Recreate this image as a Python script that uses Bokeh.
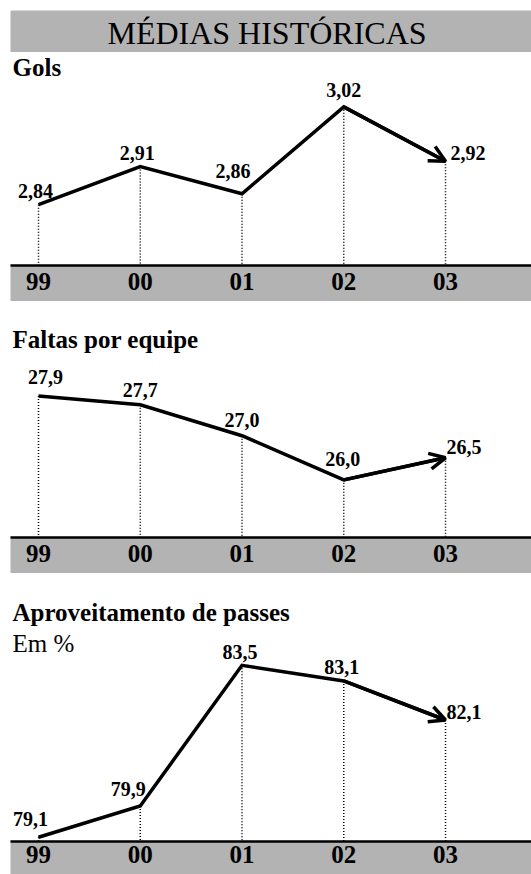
from bokeh.plotting import figure
from bokeh.layouts import column
from bokeh.models import Range1d, Label, Arrow, OpenHead, FixedTicker, ColumnDataSource
from bokeh.embed import file_html
from bokeh.resources import INLINE
from bokeh.core.properties import value

# ---------------- data ----------------
main_title = "MÉDIAS  HISTÓRICAS"
years = ["99", "00", "01", "02", "03"]

gols_title = "Gols"
gols = [2.84, 2.91, 2.86, 3.02, 2.92]

faltas_title = "Faltas por equipe"
faltas = [27.9, 27.7, 27.0, 26.0, 26.5]

passes_title = "Aproveitamento de passes"
passes_unit = "Em %"
passes = [79.1, 79.9, 83.5, 83.1, 82.1]

# ---------------- style ----------------
FONT = "Liberation Serif"
GRAY = "#b3b3b3"
W = 531
LEFT = 10

# header bar
hdr = figure(width=W, height=52, x_range=Range1d(0, 1), y_range=Range1d(0, 1),
             output_backend="svg", toolbar_location=None,
             min_border_left=LEFT, min_border_right=0, min_border_top=10,
             min_border_bottom=0, outline_line_color=None,
             background_fill_color=GRAY, border_fill_color="white",
             x_axis_location=None, y_axis_location=None)
hdr.grid.visible = False
hdr.add_layout(Label(x=0.5, y=20, y_units="screen", text=main_title,
                     text_align="center", text_baseline="alphabetic",
                     text_font=FONT, text_font_size="32px",
                     text_color="black"))


def make_panel(vals, fmt, height, yr, standoff, titles, dx, dy):
    xs = list(range(len(years)))
    p = figure(width=W, height=height, x_range=Range1d(-0.2752, 4.845),
               y_range=Range1d(*yr), output_backend="svg", toolbar_location=None,
               min_border_left=LEFT, min_border_right=0, min_border_top=0,
               min_border_bottom=0, outline_line_color=None,
               background_fill_color="white", border_fill_color="white",
               y_axis_location=None)
    p.grid.visible = False
    ax = p.xaxis[0]
    ax.ticker = FixedTicker(ticks=xs)
    ax.major_label_overrides = {i: t for i, t in enumerate(years)}
    ax.major_label_text_font = FONT
    ax.major_label_text_font_size = "25px"
    ax.major_label_text_font_style = "bold"
    ax.major_label_text_color = "black"
    ax.major_label_standoff = standoff
    ax.major_tick_line_color = None
    ax.minor_tick_line_color = None
    ax.major_tick_out = 0
    ax.major_tick_in = 0
    ax.axis_line_color = "black"
    ax.axis_line_width = 2.5
    ax.background_fill_color = GRAY
    # blank axis label: only pads the grey band below the tick labels
    ax.axis_label = " "
    ax.axis_label_text_font_size = "6px"
    ax.axis_label_standoff = 0

    # dotted drop lines
    p.segment(x0=xs, y0=vals, x1=xs, y1=[yr[0]] * len(xs), line_color="black",
              line_width=1.5, line_dash="1 2")
    # main line
    p.line(xs, vals, line_color="black", line_width=3.5, line_join="miter")
    p.add_layout(Arrow(end=OpenHead(size=16, line_width=3.5, line_color="black"),
                       x_start=xs[-2], y_start=vals[-2], x_end=xs[-1], y_end=vals[-1],
                       line_color="black", line_width=3.5))
    labels = [fmt.format(v).replace(".", ",") for v in vals]
    aligns = ["center"] * (len(xs) - 1) + ["left"]
    src = ColumnDataSource(dict(x=xs, y=vals, t=labels, dx=dx, dy=dy, al=aligns))
    p.text(x="x", y="y", text="t", x_offset="dx", y_offset="dy", text_align="al",
           text_baseline="alphabetic", text_font=value(FONT), text_font_style="bold",
           text_font_size="20px", text_color="black", source=src)
    for (txt, yy, size, style) in titles:
        p.add_layout(Label(x=2, y=yy, x_units="screen", y_units="screen", text=txt,
                           text_align="left", text_baseline="alphabetic",
                           text_font=FONT, text_font_size=size,
                           text_font_style=style, text_color="black"))
    return p


p1 = make_panel(gols, "{:.2f}", 249, (2.728, 3.12), 7,
                [(gols_title, 198.5, "25px", "bold")],
                [-3, -3, -9, 0, 5], [-14, -14, -23, -17, -8])
p2 = make_panel(faltas, "{:.1f}", 272, (24.694, 30.04), 7,
                [(faltas_title, 198.5, "25px", "bold")],
                [7, 0, 0, -1, 1], [-19, -15, -16, -21, -11])
p3 = make_panel(passes, "{:.1f}", 301, (78.99, 85.85), 4,
                [(passes_title, 229.5, "25px", "bold"), (passes_unit, 198.5, "25px", "normal")],
                [-8, -12, -2, -2, 1], [-18, -17, -13, -14, -8])

layout = column(hdr, p1, p2, p3, spacing=0)
open("out.html", "w").write(file_html(layout, INLINE))
